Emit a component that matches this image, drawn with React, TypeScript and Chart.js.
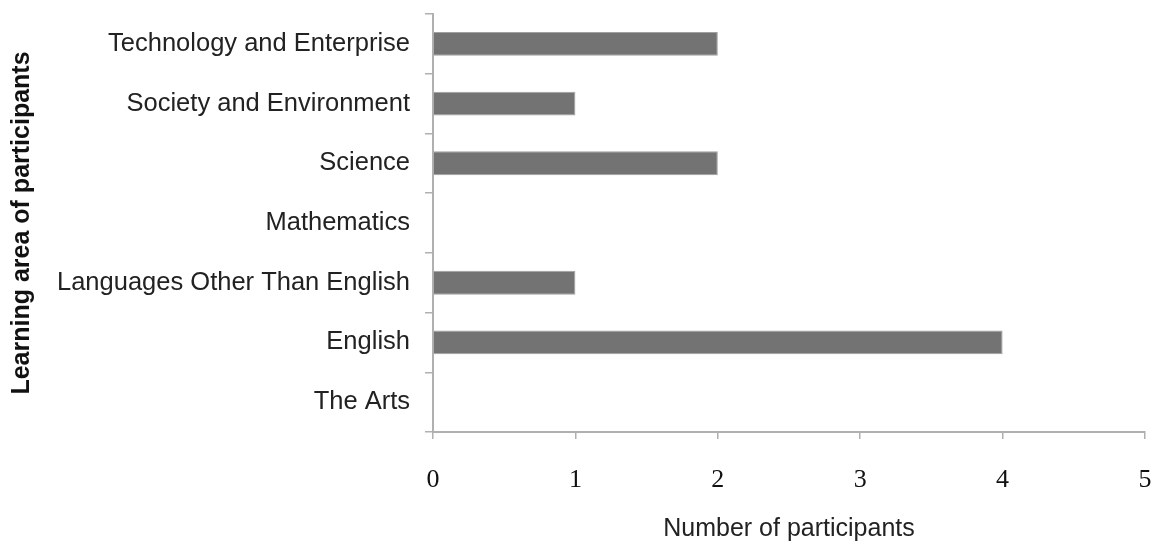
import React, { useEffect, useRef } from "react";
import { Chart, registerables } from "chart.js";

Chart.register(...registerables);

const categories = [
  "Technology and Enterprise",
  "Society and Environment",
  "Science",
  "Mathematics",
  "Languages Other Than English",
  "English",
  "The Arts",
];
const participants = [2, 1, 2, 0, 1, 4, 0];
const xTicks = [0, 1, 2, 3, 4, 5];

export default function App() {
  const ref = useRef<HTMLCanvasElement | null>(null);
  useEffect(() => {
    document.body.style.margin = "0";
    const ctx = ref.current!.getContext("2d")!;
    const chart = new Chart(ctx, {
      type: "bar",
      data: {
        labels: categories,
        datasets: [
          {
            data: participants,
            backgroundColor: "#737373",
            borderColor: "#a0a0a0",
            borderWidth: 1,
            barPercentage: 0.4,
            categoryPercentage: 1,
          },
        ],
      },
      options: {
        indexAxis: "y",
        animation: false,
        responsive: false,
        maintainAspectRatio: false,
        layout: { padding: { top: 14, right: 9, left: 0, bottom: 0 } },
        plugins: { legend: { display: false }, tooltip: { enabled: false } },
        scales: {
          x: {
            min: 0,
            max: 5,
            afterBuildTicks: (s: any) => {
              s.ticks = xTicks.map((v) => ({ value: v }));
            },
            afterFit: (s: any) => {
              s.height = 112;
              s.paddingLeft = 0;
              s.paddingRight = 0;
            },
            grid: {
              drawOnChartArea: false,
              drawTicks: true,
              tickLength: 7,
              color: "#b0b0b0",
              lineWidth: 1.5,
            },
            border: { display: true, color: "#b0b0b0", width: 2 },
            ticks: {
              color: "#111",
              font: { family: "'Liberation Serif', 'Times New Roman', serif", size: 26 },
              padding: 26,
            },
            title: {
              display: true,
              text: "Number of participants",
              color: "#222",
              font: { family: "'Liberation Sans', Arial, sans-serif", size: 25 },
              padding: { top: 10, bottom: 0 },
            },
          },
          y: {
            afterFit: (s: any) => {
              s.width = 433;
              s.paddingTop = 0;
              s.paddingBottom = 0;
            },
            grid: {
              drawOnChartArea: false,
              drawTicks: true,
              tickLength: 8,
              offset: true,
              color: "#b0b0b0",
              lineWidth: 1.5,
            },
            border: { display: true, color: "#b0b0b0", width: 2 },
            ticks: {
              color: "#222",
              font: { family: "'Liberation Sans', Arial, sans-serif", size: 25.5 },
              padding: 15,
            },
            title: {
              display: true,
              text: "Learning area of participants",
              color: "#111",
              font: { family: "'Liberation Sans', Arial, sans-serif", size: 25, weight: "bold" },
              padding: { top: 7, bottom: 0 },
            },
          },
        },
      },
    });
    return () => chart.destroy();
  }, []);
  return (
    <div style={{ position: "absolute", left: 0, top: 0, width: 1154, height: 544, background: "#fff" }}>
      <canvas ref={ref} width={1154} height={544} style={{ width: 1154, height: 544, display: "block" }} />
    </div>
  );
}
